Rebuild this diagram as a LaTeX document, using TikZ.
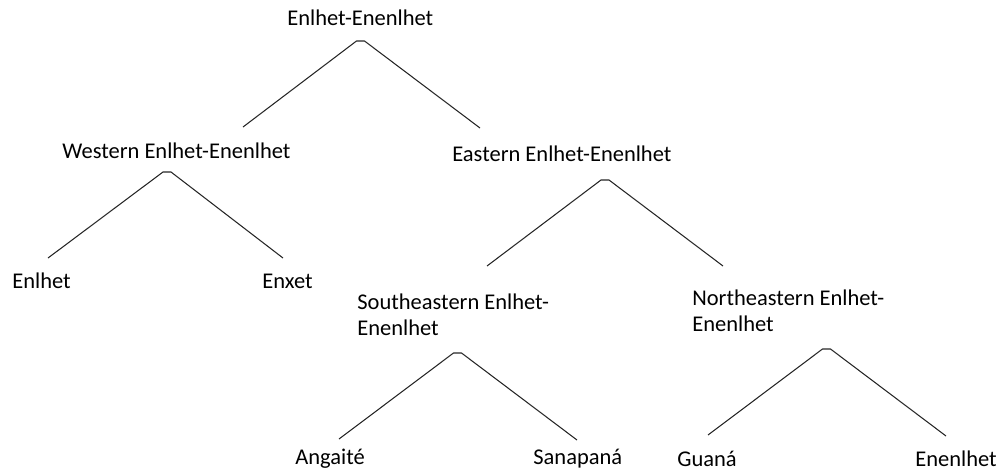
\documentclass[tikz,border=0pt]{standalone}
\usepackage{fontspec}
\setmainfont{Carlito}
\usetikzlibrary{calc}
\def\fork(#1)(#2)(#3){\draw[branch] (#2) -- ($(#1)+(-4,0)$) -- ($(#1)+(4,0)$) -- (#3);}

\begin{document}
\begin{tikzpicture}[x=0.02cm, y=-0.02cm,
		lang/.style={anchor=base west, inner sep=0pt, font=\fontsize{12.8}{14.75}\selectfont, align=left},
		branch/.style={line width=0.6pt, color=black!85}]
		%%%%% START %%%%%
		\useasboundingbox (0, 0) rectangle (1000, 471);
		
		\node[lang] (root) at (287, 25) {Enlhet-Enenlhet};
		\coordinate (root-apex) at (360.5, 41);
		\coordinate (west-tip) at (243, 127);
		\coordinate (east-tip) at (480, 128);
		\fork(root-apex)(west-tip)(east-tip);
		
		\node[lang] (west) at (62, 158) {Western Enlhet-Enenlhet};
		\coordinate (west-apex) at (167, 172);
		\coordinate (enlhet-tip) at (48, 258);
		\coordinate (enxet-tip) at (283, 258);
		\fork(west-apex)(enlhet-tip)(enxet-tip);
		
		\node[lang] (enlhet) at (12, 288) {Enlhet};
		\node[lang] (enxet) at (262, 288) {Enxet};
		
		\node[lang] (east) at (452, 161) {Eastern Enlhet-Enenlhet};
		\coordinate (east-apex) at (605, 180);
		\coordinate (southeast-tip) at (487, 266);
		\coordinate (northeast-tip) at (723, 266);
		\fork(east-apex)(southeast-tip)(northeast-tip);
		
		% base of a two-line node is its last line
		\node[lang] (southeast) at (357, 335) {Southeastern Enlhet-\\Enenlhet};
		\node[lang] (northeast) at (692, 331) {Northeastern Enlhet-\\Enenlhet};
		
		\coordinate (southeast-apex) at (457.5, 353);
		\coordinate (angaite-tip) at (339, 439);
		\coordinate (sanapana-tip) at (577, 440);
		\fork(southeast-apex)(angaite-tip)(sanapana-tip);
		
		\coordinate (northeast-apex) at (826.5, 349);
		\coordinate (guana-tip) at (708, 435);
		\coordinate (enenlhet-tip) at (946, 436);
		\fork(northeast-apex)(guana-tip)(enenlhet-tip);
		
		\node[lang] (angaite) at (295, 464) {Angaité};
		\node[lang] (sanapana) at (533, 464) {Sanapaná};
		\node[lang] (guana) at (677, 466) {Guaná};
		\node[lang] (enenlhet) at (915, 466) {Enenlhet};
		%%%%% END %%%%%
\end{tikzpicture}
\end{document}
